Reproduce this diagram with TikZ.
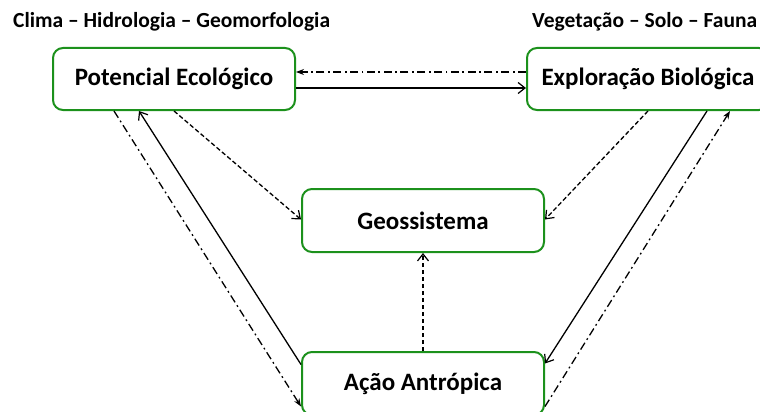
\documentclass[tikz,border=0pt]{standalone}
\usepackage{fontspec}
\setmainfont{Carlito}
\usetikzlibrary{arrows.meta,calc}
\definecolor{boxgreen}{RGB}{28,145,28}
\begin{document}
\begin{tikzpicture}[x=1pt,y=-1pt,
  box/.style={draw=boxgreen,line width=2pt,rounded corners=10pt,fill=white,
    minimum width=242pt,minimum height=62pt,inner sep=0pt,font=\bfseries\fontsize{25}{28}\selectfont},
  head/.style={font=\bfseries\fontsize{21.5}{24}\selectfont,inner sep=0pt},
  conn/.style={line width=1.3pt,black},
  solidarr/.style={conn,-{Straight Barb[length=7pt,width=11pt,line width=1.2pt]}},
  dasharr/.style={conn,dash pattern=on 4.5pt off 2.5pt,-{Straight Barb[length=7pt,width=11pt,line width=1.2pt]}},
  dotarr/.style={conn,dash pattern=on 8pt off 3.5pt on 1.8pt off 3.5pt,-{Stealth[length=8pt,width=6pt]}}
]
\useasboundingbox (0,0) rectangle (760,412);
\node[head,anchor=west] (h1) at (13,22) {Clima – Hidrologia – Geomorfologia};
\node[head,anchor=west] (h2) at (532,22) {Vegetação – Solo – Fauna};
\node[box] (pot) at (174,79) {Potencial Ecológico};
\node[box] (exp) at (648,79) {Exploração Biológica};
\node[box,minimum height=63pt] (geo) at (423,220.5) {Geossistema};
\node[box,minimum height=63pt] (aca) at (423,383.5) {Ação Antrópica};
% top connectors
\draw[dotarr] ($(exp.west)+(0,-7)$) -- ($(pot.east)+(0,-7)$);
\draw[solidarr] ($(pot.east)+(0,9)$) -- ($(exp.west)+(0,9)$);
% to geossistema
\draw[dasharr] (pot.south) -- ($(geo.west)+(0,-1)$);
\draw[dasharr] (exp.south) -- ($(geo.east)+(0,-1)$);
\draw[dasharr] (aca.north) -- (geo.south);
% left side
\draw[solidarr] ($(aca.west)+(0,-19)$) -- ($(pot.south)+(-35,0)$);
\draw[dotarr] ($(pot.south)+(-60,0)$) -- ($(aca.west)+(0,23)$);
% right side
\draw[solidarr] ($(exp.south)+(59,0)$) -- ($(aca.east)+(0,-20)$);
\draw[dotarr] ($(aca.east)+(0,23)$) -- ($(exp.south)+(82,0)$);
\end{tikzpicture}
\end{document}
